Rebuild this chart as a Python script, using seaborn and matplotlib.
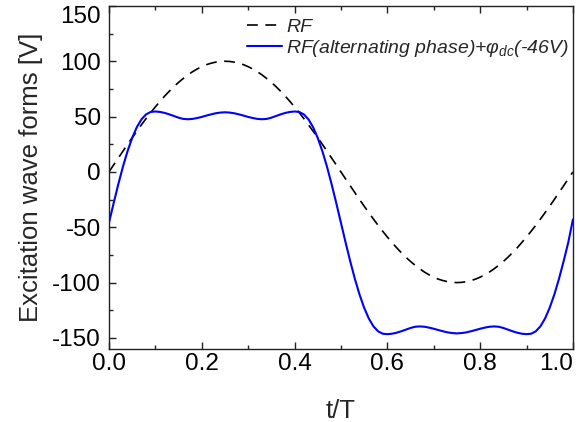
import numpy as np
import pandas as pd
import matplotlib
matplotlib.use('Agg')
import matplotlib.pyplot as plt
import seaborn as sns
from matplotlib.ticker import MultipleLocator, FormatStrFormatter

# sampling grid of the curves (t/T)
t = np.round(np.linspace(0.0, 1.0, 101), 2)

# plain RF wave [V]
rf = [0, 6.3, 12.5, 18.7, 24.9, 30.9, 36.8, 42.6, 48.2, 53.6,
      58.8, 63.7, 68.5, 72.9, 77.1, 80.9, 84.4, 87.6, 90.5, 93.0,
      95.1, 96.9, 98.2, 99.2, 99.8, 100, 99.8, 99.2, 98.2, 96.9,
      95.1, 93.0, 90.5, 87.6, 84.4, 80.9, 77.1, 72.9, 68.5, 63.7,
      58.8, 53.6, 48.2, 42.6, 36.8, 30.9, 24.9, 18.7, 12.5, 6.3,
      0, -6.3, -12.5, -18.7, -24.9, -30.9, -36.8, -42.6, -48.2, -53.6,
      -58.8, -63.7, -68.5, -72.9, -77.1, -80.9, -84.4, -87.6, -90.5, -93.0,
      -95.1, -96.9, -98.2, -99.2, -99.8, -100, -99.8, -99.2, -98.2, -96.9,
      -95.1, -93.0, -90.5, -87.6, -84.4, -80.9, -77.1, -72.9, -68.5, -63.7,
      -58.8, -53.6, -48.2, -42.6, -36.8, -30.9, -24.9, -18.7, -12.5, -6.3, 0]

# RF with alternating phase plus dc offset (-46 V)
rf_alt = [-46, -28.3, -11.3, 4.6, 18.7, 30.7, 40.4, 47.5, 52.0, 54.2,
          54.6, 54.2, 53.3, 52.0, 50.5, 49.0, 47.9, 47.6, 47.9, 48.7,
          49.7, 50.9, 52.0, 53.0, 53.6, 53.9, 53.6, 53.0, 52.0, 50.9,
          49.7, 48.7, 47.9, 47.6, 47.9, 49.0, 50.5, 52.0, 53.3, 54.2,
          54.6, 54.2, 52.0, 47.5, 40.4, 30.7, 18.7, 4.6, -11.3, -28.3,
          -46, -63.7, -80.7, -96.6, -110.7, -122.7, -132.4, -139.5, -144.0, -146.2,
          -146.6, -146.2, -145.3, -144.0, -142.5, -141.0, -139.9, -139.6, -139.9, -140.7,
          -141.7, -142.9, -144.0, -145.0, -145.6, -145.9, -145.6, -145.0, -144.0, -142.9,
          -141.7, -140.7, -139.9, -139.6, -139.9, -141.0, -142.5, -144.0, -145.3, -146.2,
          -146.6, -146.2, -144.0, -139.5, -132.4, -122.7, -110.7, -96.6, -80.7, -63.7, -43]

df = pd.DataFrame({'t': t, 'rf': rf, 'rf_alt': rf_alt})

sns.set_theme(style='ticks')
plt.rcParams['font.family'] = ['Liberation Sans', 'DejaVu Sans']
plt.rcParams['mathtext.fontset'] = 'custom'
plt.rcParams['mathtext.rm'] = 'Liberation Sans'
plt.rcParams['mathtext.it'] = 'Liberation Sans:italic'
plt.rcParams['axes.unicode_minus'] = False

fig, ax = plt.subplots(figsize=(5.84, 4.22), dpi=100)
fig.subplots_adjust(left=0.1866, right=0.981, top=0.986, bottom=0.173)

sns.lineplot(data=df, x='t', y='rf', ax=ax, color='black', lw=1.2,
             linestyle=(0, (6.5, 4.5)), label='RF')
sns.lineplot(data=df, x='t', y='rf_alt', ax=ax, color='#0000ff', lw=1.5,
             label=r'RF(alternating phase)+$\mathit{\varphi_{dc}}$(-46V)')

ax.set_xlim(0, 1.0)
ax.set_ylim(-160, 150)
ax.set_xticks([0.0, 0.2, 0.4, 0.6, 0.8, 1.0])
ax.set_yticks([-150, -100, -50, 0, 50, 100, 150])
ax.xaxis.set_minor_locator(MultipleLocator(0.1))
ax.yaxis.set_minor_locator(MultipleLocator(25))
ax.xaxis.set_major_formatter(FormatStrFormatter('%.1f'))
ax.tick_params(which='both', direction='in', top=True, right=False,
               width=1.0, colors='#222222', labelcolor='black')
ax.tick_params(which='major', length=5)
ax.tick_params(which='minor', length=3)
ax.tick_params(axis='x', labelsize=17.5, pad=3)
ax.tick_params(axis='y', labelsize=17.5, pad=6)
for sp in ax.spines.values():
    sp.set_linewidth(1.0)
    sp.set_color('#222222')

ax.set_xlabel('t/T', fontsize=18.5)
ax.set_ylabel('Excitation wave forms [V]', fontsize=18.5)
ax.xaxis.set_label_coords(0.5, -0.145)
ax.yaxis.set_label_coords(-0.142, 0.5)

ax.legend(loc='upper right', bbox_to_anchor=(1.0, 0.975), frameon=False,
          prop={'size': 14, 'style': 'italic'}, handlelength=1.85,
          handletextpad=0.2, labelspacing=0.1, borderpad=0, borderaxespad=0.2)

# the edge labels sit inside the picture bounds
fig.canvas.draw()
for lab in ax.get_xticklabels():
    if lab.get_text() == '1.0':
        lab.set_horizontalalignment('right')
for lab in ax.get_yticklabels():
    if lab.get_text() == '150':
        lab.set_verticalalignment('top')

plt.savefig('out.png', dpi=100)
plt.close()
